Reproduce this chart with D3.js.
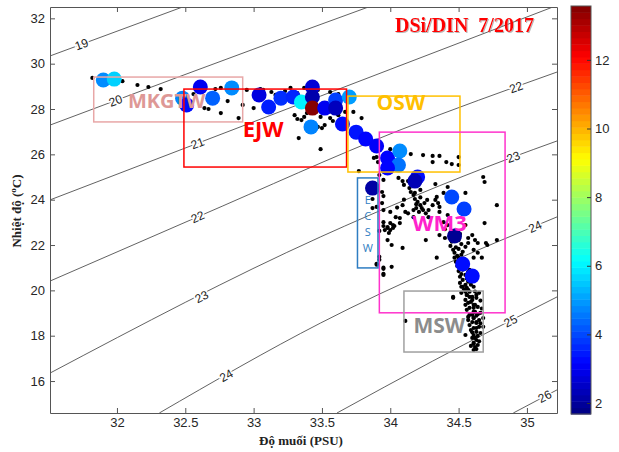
<!DOCTYPE html>
<html>
<head>
<meta charset="utf-8">
<script src="https://cdn.jsdelivr.net/npm/d3@7"></script>
<style>
  body { margin: 0; background: #fff; }
</style>
</head>
<body>
<div id="chart"></div>
<script>
// axis limits and ticks
const salDomain = [31.51, 35.22];
const tempDomain = [14.59, 32.5];
const salTicks = [32, 32.5, 33, 33.5, 34, 34.5, 35];
const tempTicks = [16, 18, 20, 22, 24, 26, 28, 30, 32];
const ratioRange = [1.68, 13.57];
const ratioTicks = [2, 4, 6, 8, 10, 12];

// sigma-t isopycnals, [salinity, temperature]
const isoLevels = [19, 20, 21, 22, 23, 24, 25, 26];
const sigma19 = [[31.51, 30.34], [32.48, 32.5]];
const sigma20 = [[31.51, 27.29], [33.34, 31.40], [33.84, 32.5]];
const sigma21 = [[31.51, 23.99], [33.49, 28.57], [35.19, 32.5]];
const sigma22 = [[31.51, 20.41], [32.59, 23.24], [34.07, 27.07], [35.22, 29.63]];
const sigma23 = [[31.51, 16.35], [33.49, 22.36], [34.88, 25.84], [35.22, 26.59]];
const sigma24 = [[32.31, 14.59], [33.49, 18.56], [35.22, 23.24]];
const sigma25 = [[33.61, 14.59], [34.31, 16.88], [35.22, 19.71]];
const sigma26 = [[34.90, 14.59], [35.22, 15.61]];
const isoLines = [sigma19, sigma20, sigma21, sigma22, sigma23, sigma24, sigma25, sigma26];
// contour labels: [level, salinity where label sits]
const isoLabels = [[19, 31.74], [20, 31.99], [21, 32.59], [22, 32.59], [22, 34.92],
  [23, 32.62], [23, 34.90], [24, 32.80], [24, 35.06], [25, 34.88], [26, 35.13]];

// all CTD / bottle points (small black dots), [salinity, temperature]
const bottleDots = [
  [31.82,29.37],[32.04,29.23],[32.15,29.06],[32.23,28.97],[32.32,28.88],[32.56,28.66],[32.64,28.04],
  [32.67,28.00],[32.76,27.82],[32.81,28.35],[32.72,28.88],[32.76,28.93],[32.89,27.60],[32.92,28.18],
  [32.95,28.84],[33.00,28.04],[33.05,28.88],[33.07,28.84],[33.13,28.75],[33.16,28.62],[33.23,28.79],
  [33.27,28.93],[33.32,28.70],[33.37,28.93],[33.47,28.84],[33.30,27.73],[33.32,27.56],[33.37,27.65],
  [33.35,27.51],[33.33,26.72],[33.39,27.82],[33.49,27.65],[33.47,27.21],[33.50,27.16],[33.52,27.29],
  [33.56,27.60],[33.58,27.47],[33.62,27.73],[33.49,26.23],[33.56,28.75],[33.62,28.66],[33.67,27.87],
  [33.73,27.87],[33.79,27.60],[33.90,25.88],[33.91,25.66],[33.44,27.90],[33.54,27.95],
  [33.88,25.84],[34.00,26.23],[34.15,26.01],[34.24,25.97],[34.31,25.93],[34.36,25.93],[34.31,25.66],
  [34.41,25.66],[34.45,25.57],[34.50,25.88],[34.50,25.53],[33.77,25.26],[33.92,25.09],[33.95,24.87],
  [34.06,24.96],[34.09,24.82],[34.10,24.65],[34.13,24.82],[34.14,24.51],[34.15,24.34],[34.17,24.21],
  [34.18,24.30],[34.22,24.43],[34.18,24.03],[34.20,23.90],[34.22,23.76],[34.23,23.63],[34.24,23.54],
  [34.19,23.63],[34.17,23.54],[34.21,23.46],[34.25,23.85],[34.33,24.69],[34.42,24.56],[34.33,23.99],
  [34.35,23.85],[34.36,23.68],[34.55,24.30],[34.68,25.00],[34.69,24.78],[34.78,23.76],[33.94,24.34],
  [33.95,24.16],[33.94,23.85],[33.90,23.68],[33.87,23.63],[33.95,23.54],[34.00,23.46],[34.04,23.23],
  [34.07,23.19],[34.11,23.46],[34.00,22.97],[34.02,22.88],[33.98,22.75],[34.07,22.97],[34.28,23.54],
  [34.28,23.23],[34.36,23.46],[34.39,23.01],[34.42,23.32],[34.69,22.97],[34.55,22.88],[34.17,23.23],
  [34.09,23.76],[33.87,24.03],[33.95,23.01],[33.92,22.62],[34.27,23.99],[34.31,23.76],[34.34,24.12],
  [34.39,24.30],[34.22,24.10],[34.19,23.80],[34.26,23.40],[34.13,23.40],[34.05,23.65],[34.10,24.00],
  [33.98,22.79],[34.00,22.66],[34.02,22.75],[33.96,22.66],[33.98,22.22],[34.01,22.00],[34.09,21.87],
  [33.92,21.48],[33.92,21.35],[33.90,21.13],[33.95,21.00],[34.01,21.04],[33.95,20.68],[34.26,22.22],
  [34.34,21.44],[34.36,22.44],[34.40,22.31],[34.44,21.96],[34.46,21.79],[34.47,21.66],[34.49,21.52],
  [34.50,21.44],[34.47,21.44],[34.48,21.26],[34.51,21.04],[34.53,21.70],[34.55,21.92],[34.57,22.09],
  [34.57,22.31],[34.60,22.44],[34.62,22.22],[34.64,22.09],[34.61,21.79],[34.64,21.66],[34.67,21.44],
  [34.61,21.44],[34.70,22.09],[34.78,22.22],[34.51,20.60],[34.53,20.46],[34.55,20.24],[34.56,20.11],
  [34.52,20.16],[34.55,19.94],[34.46,19.67],[34.56,19.80],[34.58,19.71],[34.55,19.58],[34.60,19.58],
  [34.57,19.45],[34.62,19.36],[34.58,19.23],[34.56,19.14],[34.61,19.05],[34.60,18.92],[34.61,18.78],
  [34.63,18.60],[34.49,21.08],[34.57,20.82],[34.56,21.04],[34.40,22.70],[34.44,22.53],[34.42,22.88],
  [34.47,22.62],[34.51,22.49],[34.50,22.22],[34.52,22.04],[34.50,21.83],[34.52,21.57],[34.55,21.35],
  [34.53,20.91],[34.55,20.68],[34.58,20.91],[34.57,20.38],[34.61,20.16],[34.58,19.94],[33.95,22.84],
  [34.03,22.84],[33.99,22.53],[33.90,21.17],[33.95,20.95],[33.95,20.73],[34.71,22.00],
  [34.45,22.15],[34.48,21.90],[34.46,22.40],[34.49,22.30],[34.53,21.20],[34.50,20.85],[34.52,20.72],
  [34.56,20.52],[34.54,20.05],[34.59,20.25],
  [34.51,20.33],[34.53,20.16],[34.55,20.02],[34.57,20.02],[34.52,19.89],[34.56,19.80],[34.60,19.71],
  [34.63,19.80],[34.65,19.89],[34.46,19.71],[34.61,19.36],[34.64,19.27],[34.62,19.05],[34.66,19.01],
  [34.57,18.83],[34.61,18.78],[34.60,18.60],[34.63,18.56],[34.68,18.78],[34.65,18.39],[34.61,18.34],
  [34.63,18.17],[34.66,18.12],[34.61,18.03],[34.55,18.03],[34.60,17.90],[34.63,17.81],[34.61,17.68],
  [34.62,17.50],[34.61,17.37],[34.11,18.65],[34.68,18.39],[34.58,18.47],[34.63,18.34],[34.59,18.25],
  [34.64,17.99],[34.62,17.90],[34.61,17.64],[34.64,17.59],[34.63,17.41],[34.58,18.92],[34.63,18.88],
  [34.65,18.69],[34.57,18.69],[34.61,19.23],[34.55,19.36],[34.59,19.49],[34.63,19.67],
  [34.62,19.95],[34.66,19.55],[34.67,19.20],[34.64,18.95],[34.66,18.55],[34.60,18.15],[34.65,17.75],
  [34.59,17.55]
];

// samples coloured by DSi/DIN ratio
const dsiSal = [31.90,31.98,32.48,32.51,32.61,32.70,32.84,33.04,33.11,33.20,33.29,33.35,33.43,33.43,
  33.43,33.42,33.52,33.60,33.60,33.70,33.65,33.75,33.82,33.90,33.98,34.07,34.06,33.98,34.20,34.18,
  33.87,34.45,34.54,34.47,34.53,34.60];
const dsiTemp = [29.28,29.32,28.48,28.18,28.97,28.48,28.93,28.62,28.09,28.48,28.53,28.31,28.97,28.53,
  28.04,27.21,28.04,28.40,28.04,28.53,27.34,26.98,26.68,26.37,25.84,26.15,25.53,25.40,25.00,24.82,
  24.51,24.12,23.59,22.40,21.16,20.63];
const dsiRatio = [4.8,5.6,4.7,3.3,3.0,4.3,4.8,2.8,3.5,3.7,3.6,6.0,2.7,2.2,13.5,4.7,3.0,3.9,2.4,5.0,
  3.3,3.4,3.2,3.1,3.2,4.8,4.5,3.2,3.3,2.3,2.1,4.0,3.9,1.9,3.3,3.3];

// water mass boxes
const massNames = ["MKGTW", "EJW", "OSW", "WM3", "ECSW", "MSW"];
const massSal = [[31.83, 32.92], [32.49, 33.68], [33.69, 34.51], [33.92, 34.84], [33.76, 33.91], [34.10, 34.68]];
const massTemp = [[27.43, 29.41], [25.44, 28.88], [25.22, 28.57], [19.01, 26.98], [20.99, 24.96], [17.28, 19.97]];

const massStyle = {
  MKGTW: { stroke: "#E8A7A7", fill: "#DE9896", size: 20, at: [32.08, 28.04] },
  EJW:   { stroke: "#FF0000", fill: "#FF0000", size: 22, at: [32.92, 26.76] },
  OSW:   { stroke: "#FFC000", fill: "#FFC000", size: 21, at: [33.90, 27.96] },
  WM3:   { stroke: "#FF33CC", fill: "#FF22CC", size: 22, at: [34.16, 22.62] },
  ECSW:  { stroke: "#2E7DC2", fill: "#2E7DC2", size: 11, vertical: true },
  MSW:   { stroke: "#A0A0A0", fill: "#8C8C8C", size: 21, at: [34.17, 18.13] }
};

const width = 619;
const height = 452;
const plot = { left: 50, right: 557, top: 7, bottom: 413 };
const cbar = { left: 571, right: 591, top: 6, bottom: 414 };
const sansFont = "Liberation Sans, Arial, sans-serif";
const serifFont = "Liberation Serif, Times New Roman, serif";
const boxFont = "Open Sans, sans-serif";

const svg = d3.select("#chart").append("svg")
  .attr("width", width)
  .attr("height", height)
  .attr("font-family", sansFont);

const x = d3.scaleLinear().domain(salDomain).range([plot.left, plot.right]);
const y = d3.scaleLinear().domain(tempDomain).range([plot.bottom, plot.top]);

// jet colormap
const jetStops = [0, 0.125, 0.375, 0.625, 0.875, 1];
const jetColors = ["#000080", "#0000ff", "#00ffff", "#ffff00", "#ff0000", "#800000"];
const colour = d3.scaleLinear()
  .domain(jetStops.map(t => ratioRange[0] + t * (ratioRange[1] - ratioRange[0])))
  .range(jetColors)
  .clamp(true);

svg.append("clipPath").attr("id", "plotClip")
  .append("rect")
  .attr("x", plot.left).attr("y", plot.top)
  .attr("width", plot.right - plot.left).attr("height", plot.bottom - plot.top);

const defs = svg.append("defs");
const shadow = defs.append("filter").attr("id", "shadow");
shadow.append("feDropShadow")
  .attr("dx", 1).attr("dy", 1).attr("stdDeviation", 0.6)
  .attr("flood-color", "#888").attr("flood-opacity", 0.6);

// isopycnals
const isoGroup = svg.append("g").attr("clip-path", "url(#plotClip)");
const lineGen = d3.line()
  .x(d => x(d[0]))
  .y(d => y(d[1]))
  .curve(d3.curveMonotoneX);

isoGroup.selectAll("path.iso")
  .data(isoLines)
  .enter()
  .append("path")
  .attr("class", "iso")
  .attr("d", lineGen)
  .attr("fill", "none")
  .attr("stroke", "#3a3a3a")
  .attr("stroke-width", 0.8);

isoLabels.forEach(([level, s]) => {
  const pts = isoLines[isoLevels.indexOf(level)];
  let i = 0;
  while (i < pts.length - 2 && s > pts[i + 1][0]) i++;
  const a = pts[i], b = pts[i + 1];
  const f = (s - a[0]) / (b[0] - a[0]);
  const t = a[1] + f * (b[1] - a[1]);
  const angle = Math.atan2(y(b[1]) - y(a[1]), x(b[0]) - x(a[0])) * 180 / Math.PI;
  isoGroup.append("text")
    .attr("transform", `translate(${x(s)},${y(t)}) rotate(${angle})`)
    .attr("text-anchor", "middle")
    .attr("dy", "0.35em")
    .attr("font-size", 12)
    .attr("fill", "#222")
    .attr("stroke", "#fff")
    .attr("stroke-width", 3)
    .attr("paint-order", "stroke")
    .text(level);
});

// black dots
const markGroup = svg.append("g").attr("clip-path", "url(#plotClip)");
markGroup.selectAll("circle.dot")
  .data(bottleDots)
  .enter()
  .append("circle")
  .attr("class", "dot")
  .attr("cx", d => x(d[0]))
  .attr("cy", d => y(d[1]))
  .attr("r", 2.1)
  .attr("fill", "#000");

// DSi/DIN circles
markGroup.selectAll("circle.dsi")
  .data(d3.range(dsiSal.length))
  .enter()
  .append("circle")
  .attr("class", "dsi")
  .attr("cx", i => x(dsiSal[i]))
  .attr("cy", i => y(dsiTemp[i]))
  .attr("r", 7.5)
  .attr("fill", i => colour(dsiRatio[i]));

// water mass boxes and labels
const massGroup = svg.append("g");
massNames.forEach((name, i) => {
  const st = massStyle[name];
  const x0 = x(massSal[i][0]), x1 = x(massSal[i][1]);
  const y0 = y(massTemp[i][1]), y1 = y(massTemp[i][0]);
  massGroup.append("rect")
    .attr("x", x0).attr("y", y0)
    .attr("width", x1 - x0).attr("height", y1 - y0)
    .attr("fill", "none")
    .attr("stroke", st.stroke)
    .attr("stroke-width", 1.5);
  if (st.vertical) {
    name.split("").forEach((ch, k) => {
      massGroup.append("text")
        .attr("x", (x0 + x1) / 2)
        .attr("y", y0 + 26 + k * 16)
        .attr("text-anchor", "middle")
        .attr("font-family", boxFont)
        .attr("font-size", st.size)
        .attr("fill", st.fill)
        .text(ch);
    });
  } else {
    massGroup.append("text")
      .attr("x", x(st.at[0]))
      .attr("y", y(st.at[1]))
      .attr("font-family", boxFont)
      .attr("font-weight", "bold")
      .attr("font-size", st.size)
      .attr("fill", st.fill)
      .text(name);
  }
});

// axes, MATLAB style box with inward ticks
const axisGroup = svg.append("g");
const xAxis = d3.axisBottom(x).tickValues(salTicks).tickFormat(d3.format("~g"))
  .tickSize(-5).tickSizeOuter(0).tickPadding(5);
const yAxis = d3.axisLeft(y).tickValues(tempTicks)
  .tickSize(-5).tickSizeOuter(0).tickPadding(5);

axisGroup.append("g").attr("transform", `translate(0,${plot.bottom})`).call(xAxis);
axisGroup.append("g").attr("transform", `translate(${plot.left},0)`).call(yAxis);
axisGroup.append("g").attr("transform", `translate(0,${plot.top})`)
  .call(d3.axisTop(x).tickValues(salTicks).tickSize(-5).tickSizeOuter(0).tickFormat(""));
axisGroup.append("g").attr("transform", `translate(${plot.right},0)`)
  .call(d3.axisRight(y).tickValues(tempTicks).tickSize(-5).tickSizeOuter(0).tickFormat(""));

axisGroup.selectAll("path.domain").attr("stroke", "#555");
axisGroup.selectAll(".tick line").attr("stroke", "#555");
axisGroup.selectAll(".tick text")
  .attr("font-size", 13)
  .attr("font-family", sansFont)
  .attr("fill", "#262626");

// axis titles
svg.append("text")
  .attr("x", 301)
  .attr("y", 445)
  .attr("text-anchor", "middle")
  .attr("font-family", serifFont)
  .attr("font-weight", "bold")
  .attr("font-size", 13)
  .attr("fill", "#222")
  .text("Độ muối (PSU)");

const yTitle = svg.append("text")
  .attr("transform", "translate(21,211) rotate(-90)")
  .attr("text-anchor", "middle")
  .attr("font-family", serifFont)
  .attr("font-weight", "bold")
  .attr("font-size", 13)
  .attr("fill", "#222");
yTitle.append("tspan").text("Nhiệt độ (");
yTitle.append("tspan").attr("baseline-shift", "super").attr("font-size", 9).text("o");
yTitle.append("tspan").text("C)");

// chart title
svg.append("text")
  .attr("x", 395)
  .attr("y", 32)
  .attr("font-family", serifFont)
  .attr("font-weight", "bold")
  .attr("font-size", 20)
  .attr("fill", "#FF0000")
  .attr("filter", "url(#shadow)")
  .style("white-space", "pre")
  .text("DSi/DIN  7/2017");

// colorbar
const cb = d3.scaleLinear().domain(ratioRange).range([cbar.bottom, cbar.top]);
const nBands = 64;
const bandStep = (ratioRange[1] - ratioRange[0]) / nBands;
const bands = d3.range(nBands).map(k => ratioRange[0] + k * bandStep);

const cbGroup = svg.append("g");
cbGroup.selectAll("rect.band")
  .data(bands)
  .enter()
  .append("rect")
  .attr("class", "band")
  .attr("x", cbar.left)
  .attr("width", cbar.right - cbar.left)
  .attr("y", d => cb(d + bandStep))
  .attr("height", d => cb(d) - cb(d + bandStep) + 0.5)
  .attr("fill", d => colour(d + bandStep / 2));

cbGroup.append("rect")
  .attr("x", cbar.left).attr("y", cbar.top)
  .attr("width", cbar.right - cbar.left).attr("height", cbar.bottom - cbar.top)
  .attr("fill", "none")
  .attr("stroke", "#555");

const cbAxis = cbGroup.append("g")
  .attr("transform", `translate(${cbar.right},0)`)
  .call(d3.axisRight(cb).tickValues(ratioTicks).tickSize(-4).tickSizeOuter(0).tickPadding(4));
cbAxis.select("path.domain").remove();
cbAxis.selectAll(".tick line").attr("stroke", "#333");
cbAxis.selectAll(".tick text")
  .attr("font-size", 13)
  .attr("font-family", sansFont)
  .attr("fill", "#262626");
</script>
</body>
</html>
